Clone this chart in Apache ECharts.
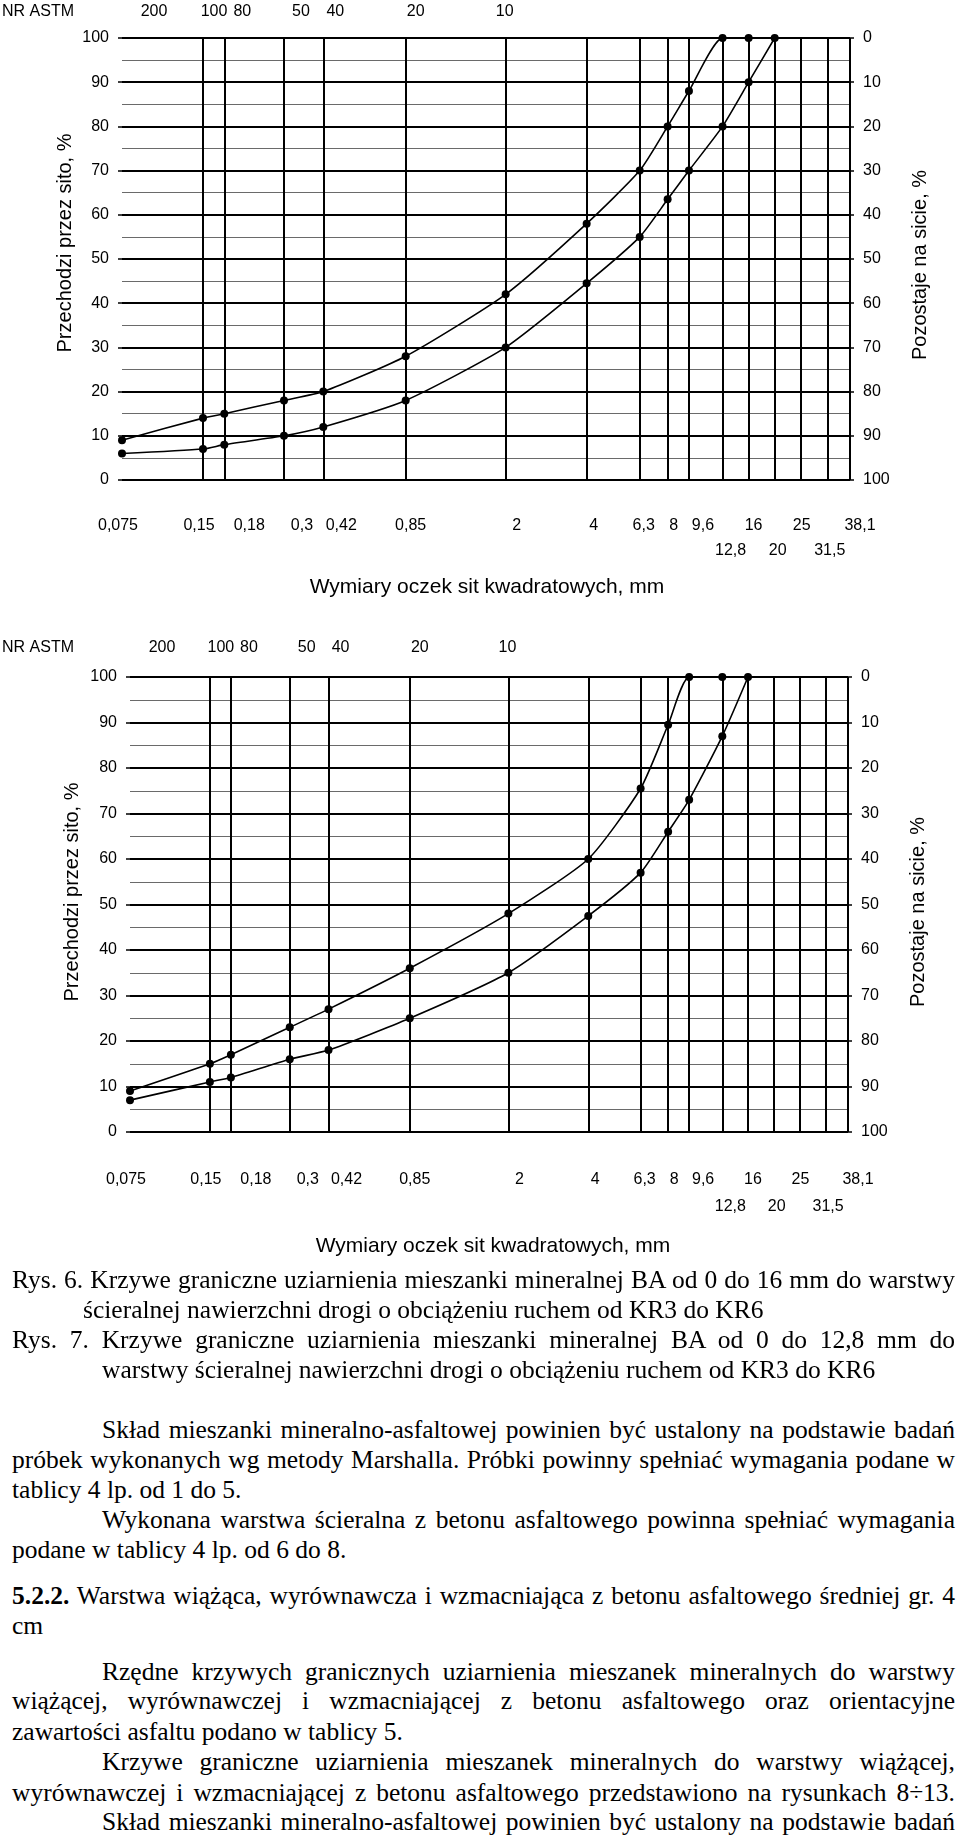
<!DOCTYPE html>
<html lang="pl">
<head>
<meta charset="utf-8">
<title>Krzywe graniczne uziarnienia</title>
<script src="https://cdn.jsdelivr.net/npm/echarts@6/dist/echarts.min.js"></script>
<style>
  html, body { margin: 0; padding: 0; background: #fff; }
  body { position: relative; width: 960px; height: 1841px; overflow: hidden; }
  .chart { position: absolute; left: 0; width: 960px; }
  #rys6 { top: 0; height: 610px; }
  #rys7 { top: 610px; height: 660px; }
  .txt {
    position: absolute; left: 12px; width: 943px; box-sizing: border-box;
    font-family: 'Liberation Serif', 'Times New Roman', serif;
    font-size: 25.5px; line-height: 30px; color: #000;
  }
  .nw { white-space: nowrap; }
  .j { text-align: justify; text-align-last: justify; }
  .ind { padding-left: 90px; }
</style>
</head>
<body>
<div id="rys6" class="chart"></div>
<div id="rys7" class="chart"></div>

<div class="txt j" style="top:1265px">Rys. 6. Krzywe graniczne uziarnienia mieszanki mineralnej BA od 0 do 16 mm do warstwy</div>
<div class="txt nw" style="top:1295px;padding-left:71px">ścieralnej nawierzchni drogi o obciążeniu ruchem od KR3 do KR6</div>
<div class="txt j" style="top:1325px">Rys. 7. Krzywe graniczne uziarnienia mieszanki mineralnej BA od 0 do 12,8 mm do</div>
<div class="txt nw" style="top:1355px;padding-left:90px">warstwy ścieralnej nawierzchni drogi o obciążeniu ruchem od KR3 do KR6</div>

<div class="txt j ind" style="top:1415px">Skład mieszanki mineralno-asfaltowej powinien być ustalony na podstawie badań</div>
<div class="txt j" style="top:1445px">próbek wykonanych wg metody Marshalla. Próbki powinny spełniać wymagania podane w</div>
<div class="txt nw" style="top:1475px">tablicy 4 lp. od 1 do 5.</div>
<div class="txt j ind" style="top:1505px">Wykonana warstwa ścieralna z betonu asfaltowego powinna spełniać wymagania</div>
<div class="txt nw" style="top:1535px">podane w tablicy 4 lp. od 6 do 8.</div>

<div class="txt j" style="top:1581px"><b>5.2.2.</b> Warstwa wiążąca, wyrównawcza i wzmacniająca z betonu asfaltowego średniej gr. 4</div>
<div class="txt nw" style="top:1611px">cm</div>

<div class="txt j ind" style="top:1657px">Rzędne krzywych granicznych uziarnienia mieszanek mineralnych do warstwy</div>
<div class="txt j" style="top:1686px">wiążącej, wyrównawczej i wzmacniającej z betonu asfaltowego oraz orientacyjne</div>
<div class="txt nw" style="top:1717px">zawartości asfaltu podano w tablicy 5.</div>
<div class="txt j ind" style="top:1747px">Krzywe graniczne uziarnienia mieszanek mineralnych do warstwy wiążącej,</div>
<div class="txt j" style="top:1778px">wyrównawczej i wzmacniającej z betonu asfaltowego przedstawiono na rysunkach 8÷13.</div>
<div class="txt j ind" style="top:1807px">Skład mieszanki mineralno-asfaltowej powinien być ustalony na podstawie badań</div>

<script>
// sieve openings, mm
const sieves = [0.075, 0.15, 0.18, 0.3, 0.42, 0.85, 2, 4, 6.3, 8, 9.6, 12.8, 16, 20, 25, 31.5, 38.1]
const sieveLabels = ['0,075', '0,15', '0,18', '0,3', '0,42', '0,85', '2', '4', '6,3', '8', '9,6', '12,8', '16', '20', '25', '31,5', '38,1']
const secondRowLabels = ['12,8', '20', '31,5']
const astmSieves = [0.075, 0.15, 0.18, 0.3, 0.42, 0.85, 2]
const astmNumbers = ['200', '100', '80', '50', '40', '20', '10']

// Rys. 6 - BA 0/16
const fig6UpperSizes = [0.075, 0.15, 0.18, 0.3, 0.42, 0.85, 2, 4, 6.3, 8, 9.6, 12.8, 16]
const fig6Upper = [9, 14, 15, 18, 20, 28, 42, 58, 70, 80, 88, 100, 100]
const fig6LowerSizes = [0.075, 0.15, 0.18, 0.3, 0.42, 0.85, 2, 4, 6.3, 8, 9.6, 12.8, 16, 20]
const fig6Lower = [6, 7, 8, 10, 12, 18, 30, 44.5, 55, 63.5, 70, 80, 90, 100]

// Rys. 7 - BA 0/12,8
const fig7UpperSizes = [0.075, 0.15, 0.18, 0.3, 0.42, 0.85, 2, 4, 6.3, 8, 9.6, 12.8]
const fig7Upper = [9, 15, 17, 23, 27, 36, 48, 60, 75.5, 89.5, 100, 100]
const fig7LowerSizes = [0.075, 0.15, 0.18, 0.3, 0.42, 0.85, 2, 4, 6.3, 8, 9.6, 12.8, 16]
const fig7Lower = [7, 11, 12, 16, 18, 25, 35, 47.5, 57, 66, 73, 87, 100]

// label nudges as printed in the scan (px)
const labelShift = [-4, -4, 25, 18, 18, 5, 11, 7, 4, 6, 14, 8, 5, 3, 1, 2, 10]
const astmShift = [32, 11, 18, 17, 12, 10, -1]

const sans = '"Liberation Sans", Arial, sans-serif'

// positions are relative to each chart's own div
const panels = [
  {
    el: 'rys6',
    grid: { left: 122, top: 38, width: 728, height: 442 },
    astmY: 12, row1Y: 526, row2Y: 551, titleX: 487, titleY: 587,
    leftTitle: [65, 243], rightTitle: [920, 265],
    upper: [fig6UpperSizes, fig6Upper], lower: [fig6LowerSizes, fig6Lower]
  },
  {
    el: 'rys7',
    grid: { left: 130, top: 67, width: 718, height: 455 },
    astmY: 38, row1Y: 570, row2Y: 597, titleX: 493, titleY: 636,
    leftTitle: [72, 282], rightTitle: [918, 302],
    upper: [fig7UpperSizes, fig7Upper], lower: [fig7LowerSizes, fig7Lower]
  }
]

function pairs(sizes, vals) {
  return sizes.map((s, i) => [s, vals[i]])
}

function yAxisFor(right) {
  return {
    type: 'value', position: right ? 'right' : 'left', inverse: right,
    min: 0, max: 100, interval: 10,
    axisLine: { show: false },
    axisTick: { show: true, length: 4, lineStyle: { color: '#000', width: 1.5 } },
    axisLabel: { color: '#000', fontSize: 16, fontFamily: sans, margin: 13 },
    splitLine: { show: !right, lineStyle: { color: '#000', width: 2 } },
    minorTick: { show: false, splitNumber: 2 },
    minorSplitLine: { show: !right, lineStyle: { color: '#6a6a6a', width: 1 } }
  }
}

function curve(d, withSieveLines) {
  const s = {
    type: 'line', xAxisIndex: 0, yAxisIndex: 0,
    data: pairs(d[0], d[1]),
    smooth: 0.2, symbol: 'circle', symbolSize: 8, showSymbol: true,
    lineStyle: { color: '#000', width: 1.6 },
    itemStyle: { color: '#000' },
    z: 5
  }
  // vertical lines at every sieve size
  if (withSieveLines) {
    s.markLine = {
      symbol: 'none', silent: true, animation: false,
      label: { show: false },
      lineStyle: { color: '#000', width: 2, type: 'solid' },
      data: sieves.map((x) => ({ xAxis: x }))
    }
  }
  return s
}

function buildOption(p) {
  return {
    animation: false,
    grid: [p.grid],
    xAxis: [{
      type: 'log', logBase: 10, min: 0.075, max: 38.1,
      axisLine: { show: false }, axisTick: { show: false },
      axisLabel: { show: false }, splitLine: { show: false }
    }],
    yAxis: [yAxisFor(false), yAxisFor(true)],
    series: [curve(p.lower, true), curve(p.upper, false)]
  }
}

function txt(x, y, text, size, extra) {
  return Object.assign({
    type: 'text', x, y, silent: true,
    style: { text, fill: '#000', fontSize: size, fontFamily: sans, align: 'center', verticalAlign: 'middle' }
  }, extra || {})
}

function buildLabels(chart, p) {
  const g = []
  const px = (v) => chart.convertToPixel({ xAxisIndex: 0 }, v)
  sieves.forEach((v, k) => {
    const y = secondRowLabels.includes(sieveLabels[k]) ? p.row2Y : p.row1Y
    g.push(txt(px(v) + labelShift[k], y, sieveLabels[k], 16))
  })
  astmSieves.forEach((v, k) => {
    g.push(txt(px(v) + astmShift[k], p.astmY, astmNumbers[k], 16))
  })
  const nr = txt(2, p.astmY, 'NR ASTM', 16)
  nr.style.align = 'left'
  g.push(nr)
  g.push(txt(p.titleX, p.titleY, 'Wymiary oczek sit kwadratowych, mm', 21))
  g.push(txt(p.leftTitle[0], p.leftTitle[1], 'Przechodzi przez sito, %', 20, { rotation: Math.PI / 2 }))
  g.push(txt(p.rightTitle[0], p.rightTitle[1], 'Pozostaje na sicie, %', 20, { rotation: Math.PI / 2 }))
  return g
}

panels.forEach((p) => {
  const chart = echarts.init(document.getElementById(p.el), null, { renderer: 'canvas' })
  chart.setOption(buildOption(p))
  chart.setOption({ graphic: buildLabels(chart, p) })
})
</script>
</body>
</html>
